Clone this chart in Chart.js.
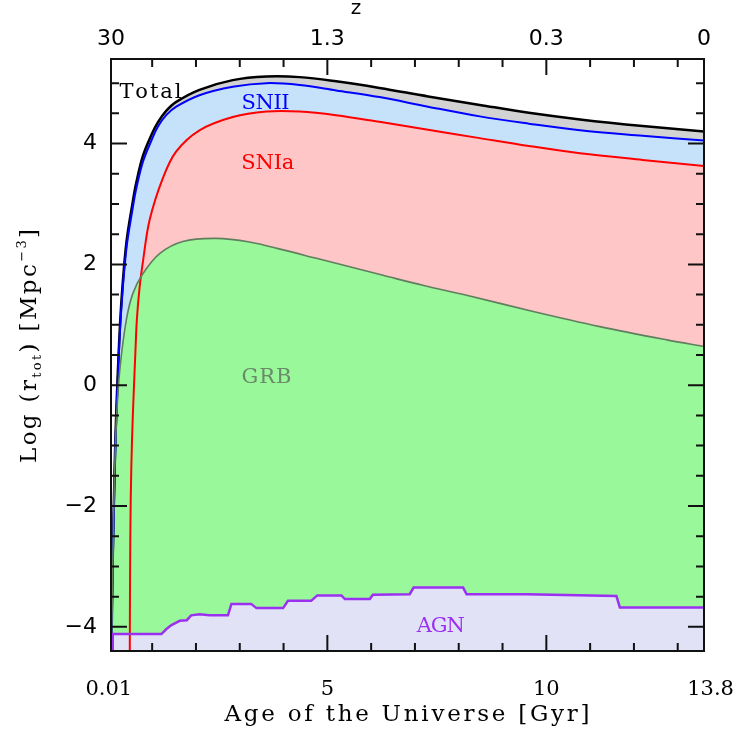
<!DOCTYPE html>
<html><head><meta charset="utf-8">
<script src="https://cdn.jsdelivr.net/npm/chart.js@4"></script>
<style>html,body{margin:0;padding:0;background:#fff}#wrap{width:734px;height:729px;position:relative}</style>
</head><body><div id="wrap"><canvas id="c"></canvas></div>
<script>
// ---- data (age of the Universe in Gyr, log rate) ----
const totalAge = [0.065, 0.08, 0.10, 0.124, 0.16, 0.215, 0.29, 0.41, 0.56, 0.636, 0.79, 1.0, 1.13, 1.32, 1.55, 2.08, 2.84, 3.61, 4.37, 5.2, 6.19, 7.3, 8.48, 9.6, 10.77, 12.2, 13.6];
const totalLog = [-4.6, -3.8, -2.84, -2.0, -0.9, 0.2, 1.3, 2.35, 3.05, 3.35, 3.80, 4.17, 4.35, 4.54, 4.69, 4.89, 5.05, 5.11, 5.10, 5.03, 4.92, 4.78, 4.64, 4.51, 4.40, 4.29, 4.20];
const sniiAge = [0.066, 0.08, 0.10, 0.124, 0.16, 0.215, 0.29, 0.41, 0.56, 0.636, 0.79, 1.0, 1.13, 1.32, 1.55, 2.08, 2.84, 3.61, 4.37, 5.2, 6.19, 7.3, 8.48, 9.6, 10.77, 12.2, 13.6];
const sniiLog = [-4.6, -3.9, -2.95, -2.1, -1.0, 0.1, 1.2, 2.25, 2.95, 3.25, 3.70, 4.08, 4.28, 4.47, 4.61, 4.80, 4.94, 5.0, 4.97, 4.88, 4.77, 4.61, 4.45, 4.33, 4.22, 4.13, 4.05];
const sniaAge = [0.488, 0.495, 0.51, 0.54, 0.58, 0.62, 0.65, 0.71, 0.79, 0.94, 1.24, 1.55, 2.08, 2.84, 3.61, 4.37, 5.2, 6.19, 7.3, 8.48, 9.6, 10.77, 12.2, 13.6];
const sniaLog = [-4.6, -3.2, -1.9, -0.9, -0.1, 0.6, 1.08, 1.6, 2.05, 2.73, 3.42, 3.87, 4.22, 4.44, 4.53, 4.53, 4.47, 4.36, 4.23, 4.09, 3.96, 3.84, 3.73, 3.63];
const grbAge = [0.07, 0.10, 0.14, 0.19, 0.26, 0.41, 0.56, 0.79, 1.17, 1.70, 2.46, 3.22, 3.99, 4.75, 5.51, 6.27, 7.2, 8.18, 9.70, 11.22, 12.75, 13.6];
const grbLog = [-4.6, -3.0, -1.5, -0.5, 0.25, 1.08, 1.52, 1.85, 2.18, 2.38, 2.43, 2.37, 2.24, 2.10, 1.96, 1.82, 1.65, 1.49, 1.22, 0.97, 0.75, 0.64];
const agnAge = [0.1, 0.1, 1.21, 1.32, 1.44, 1.63, 1.79, 1.89, 2.08, 2.31, 2.73, 2.81, 3.26, 3.38, 3.99, 4.10, 4.63, 4.77, 5.32, 5.40, 5.97, 6.04, 6.88, 6.97, 8.10, 8.18, 9.55, 11.60, 11.68, 13.6];
const agnLog = [-4.6, -4.12, -4.12, -4.04, -3.97, -3.90, -3.89, -3.81, -3.79, -3.81, -3.81, -3.62, -3.62, -3.69, -3.69, -3.57, -3.57, -3.48, -3.48, -3.54, -3.54, -3.47, -3.46, -3.35, -3.35, -3.46, -3.46, -3.49, -3.68, -3.68];

// ---- axes / tick labels ----
const xMin = 0.06, xMax = 13.6, yMin = -4.4, yMax = 5.4;
const bottomTickValues = [0.01, 5, 10, 13.75];
const bottomTickLabels = ["0.01", "5", "10", "13.8"];
const topTickValues = [0.06, 5, 10, 13.6];
const topTickLabels = ["30", "1.3", "0.3", "0"];
const yTickValues = [-4, -2, 0, 2, 4];
const yTickLabels = ["\u22124", "\u22122", "0", "2", "4"];
const seriesNames = ["Total", "SNII", "SNIa", "GRB", "AGN"];
const xTitle = "Age of the Universe [Gyr]";
const topTitle = "z";

// ---- styling (not data) ----
const style = {
  Total: {line: "#000000", fill: "#d2d2d2", width: 2.5, text: "#000000", at: [0.96, 4.85], w: 62},
  SNII:  {line: "#0000ff", fill: "#c6e2fb", width: 2,   text: "#0000ff", at: [3.59, 4.67], w: 48},
  SNIa:  {line: "#ff0000", fill: "#fec6c6", width: 2,   text: "#ff0000", at: [3.64, 3.67], w: 53},
  GRB:   {line: "#5f7f5f", fill: "#99f899", width: 1.6, text: "#6a8a6a", at: [3.61, 0.12], w: 50},
  AGN:   {line: "#9b30f0", fill: "#e2e2f7", width: 2.5, text: "#9b30f0", at: [7.59, -3.99], w: 48}
};

const pts = (a, b) => a.map((v, i) => ({x: v, y: b[i]}));
const series = {
  Total: pts(totalAge, totalLog), SNII: pts(sniiAge, sniiLog), SNIa: pts(sniaAge, sniaLog),
  GRB: pts(grbAge, grbLog), AGN: pts(agnAge, agnLog)
};
// drawing order: index 0 on top
const order = ["AGN", "GRB", "SNIa", "SNII", "Total"];
const datasets = order.map(n => ({
  label: n, data: series[n], borderColor: style[n].line, backgroundColor: style[n].fill,
  borderWidth: style[n].width, pointRadius: 0, fill: 'start', clip: 0,
  tension: n === "AGN" ? 0 : 0.35
}));

function spacedText(ctx, segs, x0, targetW) {
  let natural = 0, n = 0;
  segs.forEach(s => { ctx.font = s.font; for (const ch of s.t) { natural += ctx.measureText(ch).width; n++; } });
  const sp = n > 1 ? (targetW - natural) / (n - 1) : 0;
  let x = x0;
  segs.forEach(s => { ctx.font = s.font; for (const ch of s.t) { ctx.fillText(ch, x, s.dy); x += ctx.measureText(ch).width + sp; } });
}

const decor = {
  id: 'decor',
  afterDatasetsDraw(chart) {
    const {ctx, chartArea: a, scales} = chart;
    const sx = scales.x, sy = scales.y;
    ctx.save();
    ctx.strokeStyle = '#111'; ctx.lineWidth = 2;
    ctx.beginPath();
    for (let k = 1; k <= 13; k++) {
      const px = sx.getPixelForValue(k);
      if (px < a.left || px > a.right) continue;
      const L = (k % 5 === 0) ? 16 : 8;
      ctx.moveTo(px, a.bottom); ctx.lineTo(px, a.bottom - L);
      ctx.moveTo(px, a.top); ctx.lineTo(px, a.top + L);
    }
    for (let k = -8; k <= 10; k++) {
      const v = k * 0.5;
      const py = sy.getPixelForValue(v);
      if (py < a.top || py > a.bottom) continue;
      const L = (k % 4 === 0) ? 16 : 8;
      ctx.moveTo(a.left, py); ctx.lineTo(a.left + L, py);
      ctx.moveTo(a.right, py); ctx.lineTo(a.right - L, py);
    }
    ctx.stroke();
    ctx.strokeRect(a.left, a.top, a.right - a.left, a.bottom - a.top);
    ctx.restore();

    ctx.save();
    ctx.textBaseline = 'middle'; ctx.textAlign = 'left';
    seriesNames.forEach(n => {
      const st = style[n];
      const cx = sx.getPixelForValue(st.at[0]), cy = sy.getPixelForValue(st.at[1]);
      ctx.fillStyle = st.text;
      ctx.save(); ctx.translate(0, cy);
      spacedText(ctx, [{t: n, font: "21px 'DejaVu Serif'", dy: 0}], cx - st.w / 2, st.w);
      ctx.restore();
    });
    ctx.restore();
  },
  afterDraw(chart) {
    const {ctx, chartArea: a} = chart;
    ctx.save();
    ctx.fillStyle = '#000'; ctx.textBaseline = 'alphabetic'; ctx.textAlign = 'left';
    const cx = (a.left + a.right) / 2;
    ctx.save(); ctx.translate(0, 721);
    spacedText(ctx, [{t: xTitle, font: "23px 'DejaVu Serif'", dy: 0}], cx - 183, 365);
    ctx.restore();
    ctx.save(); ctx.translate(36, 346); ctx.rotate(-Math.PI / 2);
    const big = "23px 'DejaVu Serif'", small = "13px 'DejaVu Serif'";
    spacedText(ctx, [
      {t: "Log (r", font: big, dy: 0}, {t: "tot", font: small, dy: 5},
      {t: ") [Mpc", font: big, dy: 0}, {t: "\u22123", font: small, dy: -10}, {t: "]", font: big, dy: 0}
    ], -117, 234);
    ctx.restore();
    ctx.font = "20px 'DejaVu Sans'"; ctx.textAlign = 'center'; ctx.textBaseline = 'middle';
    ctx.fillText(topTitle, 356, 9);
    ctx.restore();
  }
};

const noPad = s => { s.paddingLeft = 0; s.paddingRight = 0; };

new Chart(document.getElementById('c'), {
  type: 'line',
  data: {datasets},
  options: {
    responsive: true, maintainAspectRatio: false, animation: false,
    layout: {padding: {left: 0, right: 30, top: 0, bottom: 0}},
    plugins: {legend: {display: false}, tooltip: {enabled: false}, filler: {drawTime: 'beforeDatasetsDraw'}},
    scales: {
      x: {
        type: 'linear', position: 'bottom', min: xMin, max: xMax,
        grid: {display: false, drawTicks: false}, border: {display: false},
        afterBuildTicks: s => { s.ticks = bottomTickValues.map(v => ({value: v})); },
        afterFit: s => { s.height = 78; noPad(s); },
        ticks: {autoSkip: false, maxRotation: 0, padding: 26, color: '#000',
          font: {family: "'DejaVu Serif'", size: 21},
          callback: (v, i) => bottomTickLabels[i]}
      },
      xTop: {
        type: 'linear', position: 'top', min: xMin, max: xMax,
        grid: {display: false, drawTicks: false}, border: {display: false},
        afterBuildTicks: s => { s.ticks = topTickValues.map(v => ({value: v})); },
        afterFit: s => { s.height = 59; noPad(s); },
        ticks: {autoSkip: false, maxRotation: 0, padding: 7, color: '#000',
          font: {family: "'DejaVu Sans'", size: 22},
          callback: (v, i) => topTickLabels[i]}
      },
      y: {
        type: 'linear', position: 'left', min: yMin, max: yMax,
        grid: {display: false, drawTicks: false}, border: {display: false},
        afterBuildTicks: s => { s.ticks = yTickValues.map(v => ({value: v})); },
        afterFit: s => { s.width = 111; s.paddingTop = 0; s.paddingBottom = 0; },
        ticks: {autoSkip: false, padding: 14, color: '#000',
          font: {family: "'DejaVu Sans'", size: 22},
          callback: (v, i) => yTickLabels[i]}
      }
    }
  },
  plugins: [decor]
});
</script>
</body></html>
